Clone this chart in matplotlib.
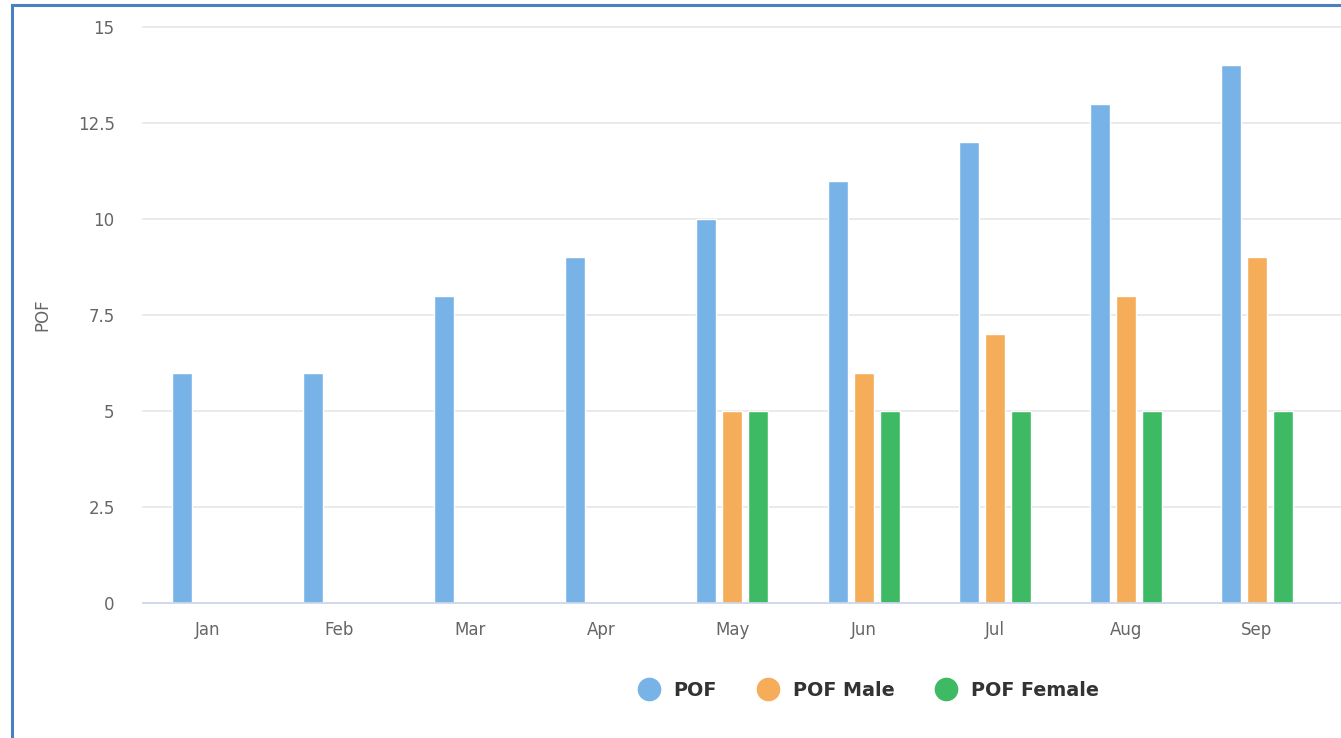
import matplotlib
matplotlib.use("Agg")
import matplotlib.pyplot as plt
import numpy as np
from matplotlib.lines import Line2D

categories = ["Jan", "Feb", "Mar", "Apr", "May", "Jun", "Jul", "Aug", "Sep"]
pof = [6, 6, 8, 9, 10, 11, 12, 13, 14]
pof_male = [np.nan, np.nan, np.nan, np.nan, 5, 6, 7, 8, 9]
pof_female = [np.nan, np.nan, np.nan, np.nan, 5, 5, 5, 5, 5]
series_names = ["POF", "POF Male", "POF Female"]
colors = ["#78b3e8", "#f5ad5a", "#3fba64"]
yticks = [0, 2.5, 5, 7.5, 10, 12.5, 15]
ytick_labels = ["0", "2.5", "5", "7.5", "10", "12.5", "15"]

W, H = 1341, 738
fig = plt.figure(figsize=(W / 100, H / 100), dpi=100)
fig.patch.set_facecolor("white")

cat_px = 131.1
left_px = 142.5
ax = fig.add_axes([left_px / W, (H - 603) / H, 1 - left_px / W, (603 - 27) / H])
x = np.arange(len(categories))
xmax = -0.5 + (W - left_px) / cat_px
ax.set_xlim(-0.5, xmax)
ax.set_ylim(0, 15)

bw = 20 / cat_px
off = 26 / cat_px
for i, (vals, c) in enumerate(zip([pof, pof_male, pof_female], colors)):
    ax.bar(x + (i - 1) * off, vals, width=bw, color=c, edgecolor="white",
           linewidth=1.0, zorder=3)

ax.set_yticks(yticks)
ax.set_yticklabels(ytick_labels)
ax.set_xticks(x)
ax.set_xticklabels(categories)
ax.grid(axis="y", color="#e6e6e6", linewidth=1.2, zorder=0)
for gl in ax.get_ygridlines():
    gl.set_clip_on(False)
ax.set_axisbelow(True)
for s in ["top", "right", "left"]:
    ax.spines[s].set_visible(False)
ax.spines["bottom"].set_color("#ccd6eb")
ax.spines["bottom"].set_linewidth(1.2)
ax.spines["bottom"].set_zorder(4)
ax.tick_params(axis="y", length=0, pad=20, labelsize=12, labelcolor="#666666")
ax.tick_params(axis="x", length=0, pad=13, labelsize=12, labelcolor="#666666")
ax.set_ylabel("POF", fontsize=12, color="#666666", labelpad=0)
ax.yaxis.set_label_coords(-(left_px - 51) / (W - left_px), 0.5)

handles = [Line2D([], [], marker="o", linestyle="none", markersize=16,
                  markerfacecolor=c, markeredgecolor=c) for c in colors]
leg = fig.legend(handles, series_names, loc="center", ncol=3,
                 bbox_to_anchor=(869 / W, (H - 690) / H), frameon=False,
                 prop={"weight": "bold", "size": 13.8}, handletextpad=0.78,
                 columnspacing=2.2, handlelength=1.0)
for t in leg.get_texts():
    t.set_color("#333333")

# outer border (partially visible)
fig.add_artist(Line2D([12 / W, 12 / W], [0, 1 - 5 / H], transform=fig.transFigure,
                      color="#4a7fc1", linewidth=2.2))
fig.add_artist(Line2D([12 / W, 1], [1 - 5 / H, 1 - 5 / H], transform=fig.transFigure,
                      color="#4a7fc1", linewidth=2.2))

fig.savefig("out.png", dpi=100)
